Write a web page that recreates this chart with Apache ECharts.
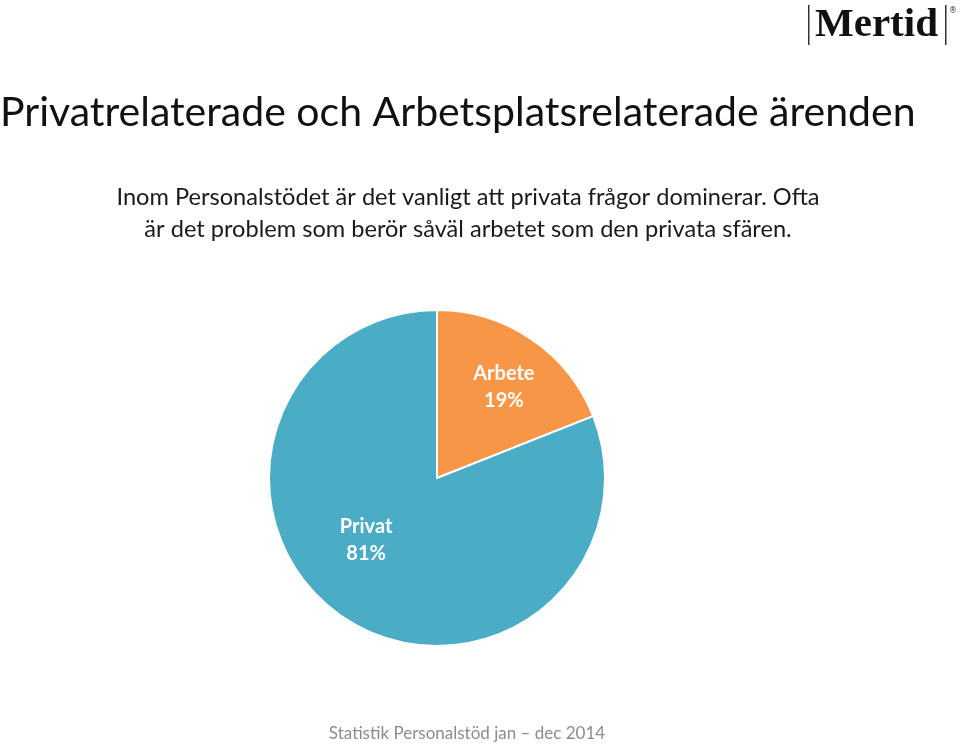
<!DOCTYPE html>
<html><head><meta charset="utf-8">
<script src="https://cdn.jsdelivr.net/npm/echarts@6/dist/echarts.min.js"></script>
<style>html,body{margin:0;padding:0;background:#fff}#c{width:960px;height:745px}</style>
</head><body><div id="c"></div>
<script>
const categories = ['Arbete', 'Privat'];
const values = [19, 81];
const colors = ['#F79646', '#4BACC6'];
const labelShift = [[18, -19], [-22, -10]];

const chart = echarts.init(document.getElementById('c'));
chart.setOption({
  animation: false,
  title: [
    { text: 'Privatrelaterade och Arbetsplatsrelaterade ärenden', left: -5, top: 87,
      textStyle: { fontFamily: 'Lato', fontSize: 41, fontWeight: 'normal', color: '#111' } },
    { text: 'Inom Personalstödet är det vanligt att privata frågor dominerar. Ofta\när det problem som berör såväl arbetet som den privata sfären.',
      left: 463, textAlign: 'center', top: 176,
      textStyle: { fontFamily: 'Lato', fontSize: 23.6, fontWeight: 'normal', color: '#1a1a1a', lineHeight: 32 } },
    { text: 'Statistik Personalstöd jan – dec 2014', left: 462, textAlign: 'center', top: 720,
      textStyle: { fontFamily: 'Lato', fontSize: 17, fontWeight: 'normal', color: '#8c8c8c' } }
  ],
  graphic: [
    { type: 'rect', shape: { x: 808, y: 5, width: 1.5, height: 40 }, style: { fill: '#333' } },
    { type: 'rect', shape: { x: 945, y: 5, width: 1.5, height: 40 }, style: { fill: '#333' } },
    { type: 'text', left: 815, top: 5, style: { text: 'Mertid', font: 'bold 41px "Liberation Serif"', fill: '#111' } },
    { type: 'text', left: 949, top: 7, style: { text: '®', font: '8px "DejaVu Sans"', fill: '#333' } }
  ],
  series: [{
    type: 'pie',
    center: [437, 478],
    radius: 168,
    startAngle: 90,
    clockwise: true,
    data: categories.map((c, i) => ({ name: c, value: values[i], itemStyle: { color: colors[i] } })),
    itemStyle: { borderColor: '#fff', borderWidth: 2 },
    label: { show: true, position: 'inside', formatter: '{b}\n{d}%', color: '#fff',
      fontFamily: 'Lato', fontWeight: 'bold', fontSize: 20, lineHeight: 27 },
    labelLine: { show: false },
    labelLayout: function (p) { const s = labelShift[p.dataIndex]; return { dx: s[0], dy: s[1] }; },
    emphasis: { disabled: true }
  }]
});
</script></body></html>
